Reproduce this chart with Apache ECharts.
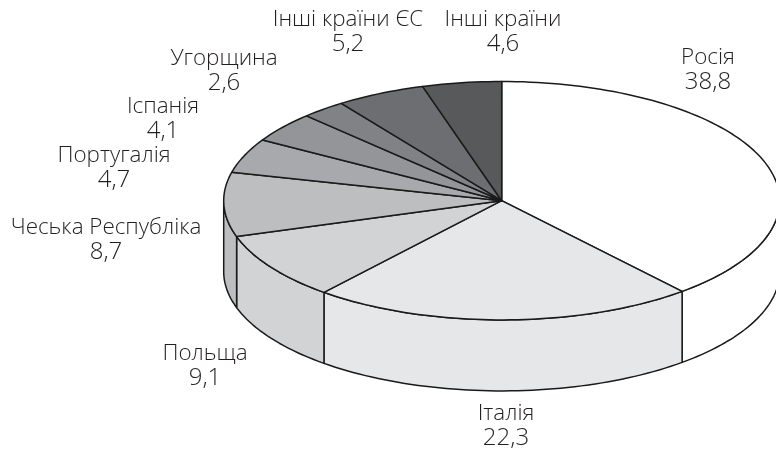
<!DOCTYPE html>
<html style="height: 100%">
<head>
    <meta charset="utf-8">
</head>
<body style="height: 100%; margin: 0; background: #fff">
<div id="container" style="width: 776px; height: 450px"></div>
<script src="https://cdn.jsdelivr.net/npm/echarts@6/dist/echarts.min.js"></script>
<script type="text/javascript">
    var countries = ['Росія', 'Італія', 'Польща', 'Чеська Республіка', 'Португалія', 'Іспанія', 'Угорщина', 'Інші країни ЄС', 'Інші країни'];
    var shares = [38.8, 22.3, 9.1, 8.7, 4.7, 4.1, 2.6, 5.2, 4.6];
    var sliceColors = ['#ffffff', '#e6e7e8', '#d1d3d4', '#bcbec0', '#a7a9ac', '#939598', '#808285', '#6d6e71', '#58595b'];

    // label centres, by hand, same order as countries
    var labelCentres = [[708, 70], [506, 426], [205, 366], [106, 240], [114, 168], [163, 119], [224, 71], [348, 32], [503, 32]];

    // the pie is a tilted disc: ellipse plus a wall below it
    var cx = 501.7, cy = 200.7, rx = 278, ry = 119.2, depth = 71;
    var lineColor = '#1a1a1a';
    var total = shares.reduce(function (a, b) { return a + b; }, 0);

    // angle in degrees, 0 at 12 o'clock, clockwise
    function rimPoint(deg, drop) {
        var t = deg * Math.PI / 180;
        return [cx + rx * Math.sin(t), cy - ry * Math.cos(t) + drop];
    }

    function arcPoints(from, to, drop) {
        var pts = [];
        var n = Math.max(2, Math.ceil((to - from) / 1.5));
        for (var i = 0; i <= n; i++) {
            pts.push(rimPoint(from + (to - from) * i / n, drop));
        }
        return pts;
    }

    function renderSlice(params, api) {
        var i = params.dataIndex;
        var before = 0;
        for (var k = 0; k < i; k++) {
            before += shares[k];
        }
        var from = before / total * 360;
        var to = (before + api.value(0)) / total * 360;
        var style = {fill: sliceColors[i], stroke: lineColor, lineWidth: 1.5, lineJoin: 'round'};
        var children = [];

        // only the front half of the rim has a visible wall
        var wallFrom = Math.max(from, 90), wallTo = Math.min(to, 270);
        if (wallTo > wallFrom) {
            var wall = arcPoints(wallFrom, wallTo, 0).concat(arcPoints(wallFrom, wallTo, depth).reverse());
            children.push({type: 'polygon', shape: {points: wall}, style: style});
        }
        children.push({
            type: 'polygon',
            shape: {points: [[cx, cy]].concat(arcPoints(from, to, 0))},
            style: style
        });
        children.push({
            type: 'text',
            z2: 10,
            style: {
                text: '{name|' + countries[i] + '}\n{num|' + api.value(0).toFixed(1).replace('.', ',') + '}',
                x: labelCentres[i][0],
                y: labelCentres[i][1],
                align: 'center',
                verticalAlign: 'middle',
                rich: {
                    name: {fontFamily: 'Open Sans', fontWeight: 300, fontSize: 22.4, lineHeight: 24, fill: '#231f20', align: 'center'},
                    num: {fontFamily: 'Open Sans', fontWeight: 300, fontSize: 24, lineHeight: 24, fill: '#231f20', align: 'center'}
                }
            }
        });
        return {type: 'group', children: children};
    }

    var myChart = echarts.init(document.getElementById('container'));
    var option = {
        animation: false,
        series: [{
            type: 'custom',
            coordinateSystem: 'none',
            renderItem: renderSlice,
            data: shares.map(function (v) { return [v]; })
        }]
    };
    myChart.setOption(option);
</script>
</body>
</html>
